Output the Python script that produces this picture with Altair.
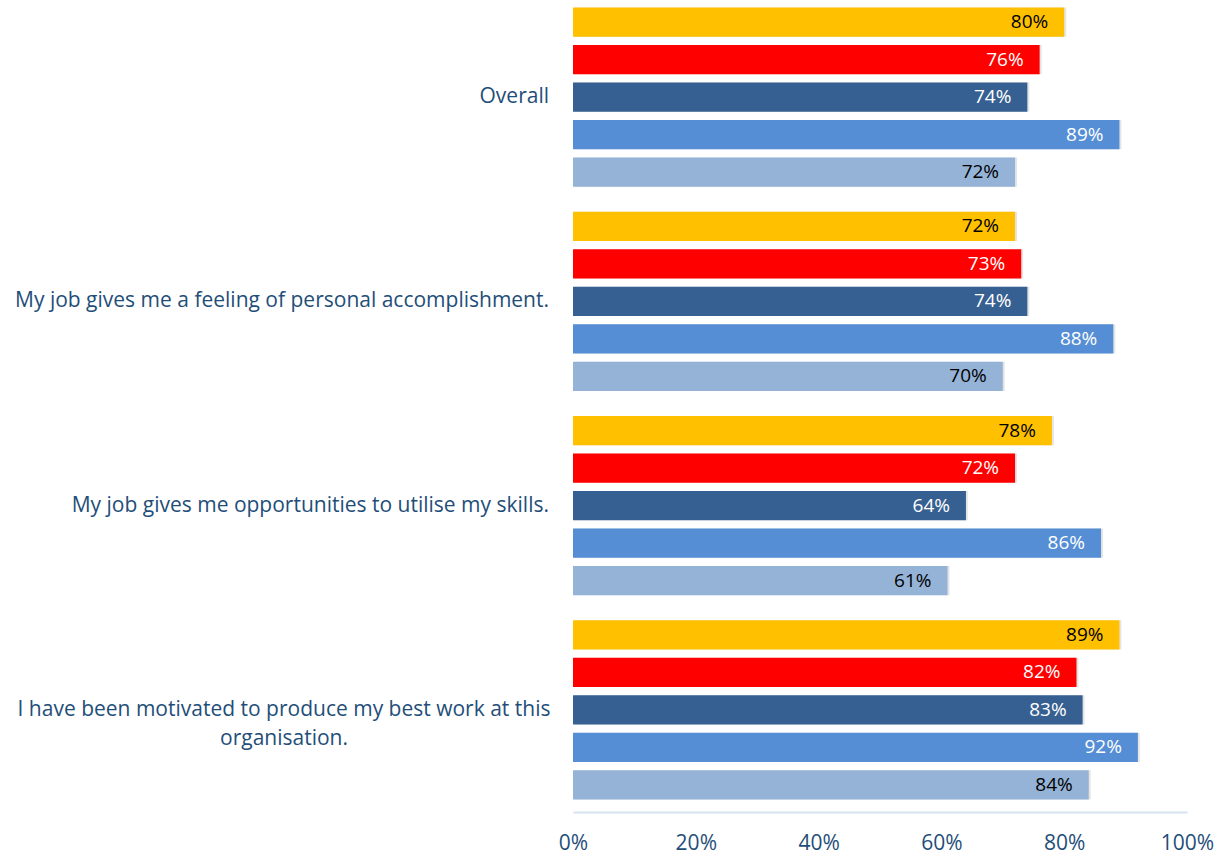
import altair as alt
import pandas as pd

categories = [
    "Overall",
    "My job gives me a feeling of personal accomplishment.",
    "My job gives me opportunities to utilise my skills.",
    "I have been motivated to produce my best work at this organisation.",
]
series = ["Series 1", "Series 2", "Series 3", "Series 4", "Series 5"]
values = {
    "Series 1": [0.80, 0.72, 0.78, 0.89],
    "Series 2": [0.76, 0.73, 0.72, 0.82],
    "Series 3": [0.74, 0.74, 0.64, 0.83],
    "Series 4": [0.89, 0.88, 0.86, 0.92],
    "Series 5": [0.72, 0.70, 0.61, 0.84],
}
colors = ["#FFC000", "#FF0000", "#376092", "#558ED5", "#95B3D7"]
label_colors = ["#000000", "#FFFFFF", "#FFFFFF", "#FFFFFF", "#000000"]

rows = []
for s, c, lc in zip(series, colors, label_colors):
    for cat, v in zip(categories, values[s]):
        rows.append({"category": cat, "series": s, "value": v, "lc": lc})
df = pd.DataFrame(rows)

FONT = "Open Sans"
TXT = "#1F4E79"

y = alt.Y("category:N", sort=categories, axis=None,
          scale=alt.Scale(range=[-5, 812], paddingInner=0, paddingOuter=0))
yo = alt.YOffset("series:N", sort=series,
                 scale=alt.Scale(paddingInner=0.22, paddingOuter=0.33))
x = alt.X("value:Q",
          scale=alt.Scale(domain=[0, 1], nice=False),
          axis=alt.Axis(format="%", values=[0, 0.2, 0.4, 0.6, 0.8, 1.0],
                        grid=False, ticks=False, domainColor="#D6E1F2",
                        domainWidth=2, labelFont=FONT, labelFontSize=21,
                        labelColor=TXT, labelPadding=20, labelFlush=False,
                        title=None))

base = alt.Chart(df)

shadow = base.mark_bar(color="#000000", opacity=0.10, xOffset=2, yOffset=3).encode(
    x=x, y=y, yOffset=yo)

bars = base.mark_bar().encode(
    x=x, y=y, yOffset=yo,
    color=alt.Color("series:N", sort=series,
                    scale=alt.Scale(domain=series, range=colors), legend=None),
)

labels = base.mark_text(align="right", baseline="middle", dx=-16,
                        font=FONT, fontSize=19).encode(
    x=x, y=y, yOffset=yo,
    text=alt.Text("value:Q", format=".0%"),
    color=alt.Color("lc:N", scale=None),
)

cat_df = pd.DataFrame({"category": categories[:3]})
cat_labels = alt.Chart(cat_df).mark_text(
    align="right", baseline="middle", font=FONT, fontSize=21, color=TXT
).encode(y=alt.Y("category:N", sort=categories, axis=None), x=alt.value(-24),
         text="category:N")

last_df = pd.DataFrame({"category": [categories[3]],
                        "lines": [["I have been motivated to produce my best work at this",
                                   "organisation."]]})
last_label = alt.Chart(last_df).mark_text(
    align="center", baseline="middle", font=FONT, fontSize=21, color=TXT,
    lineHeight=29
).encode(y=alt.Y("category:N", sort=categories, axis=None), x=alt.value(-289),
         text="lines")

chart = alt.layer(shadow, bars, labels, cat_labels, last_label).properties(
    width=614, height=812,
    padding={"left": 573, "top": 0, "right": 38, "bottom": 45},
    autosize=alt.AutoSizeParams(type="none"),
    background="white",
).configure_view(stroke=None)

chart.save("out.html", embed_options={"renderer": "svg", "actions": False})
